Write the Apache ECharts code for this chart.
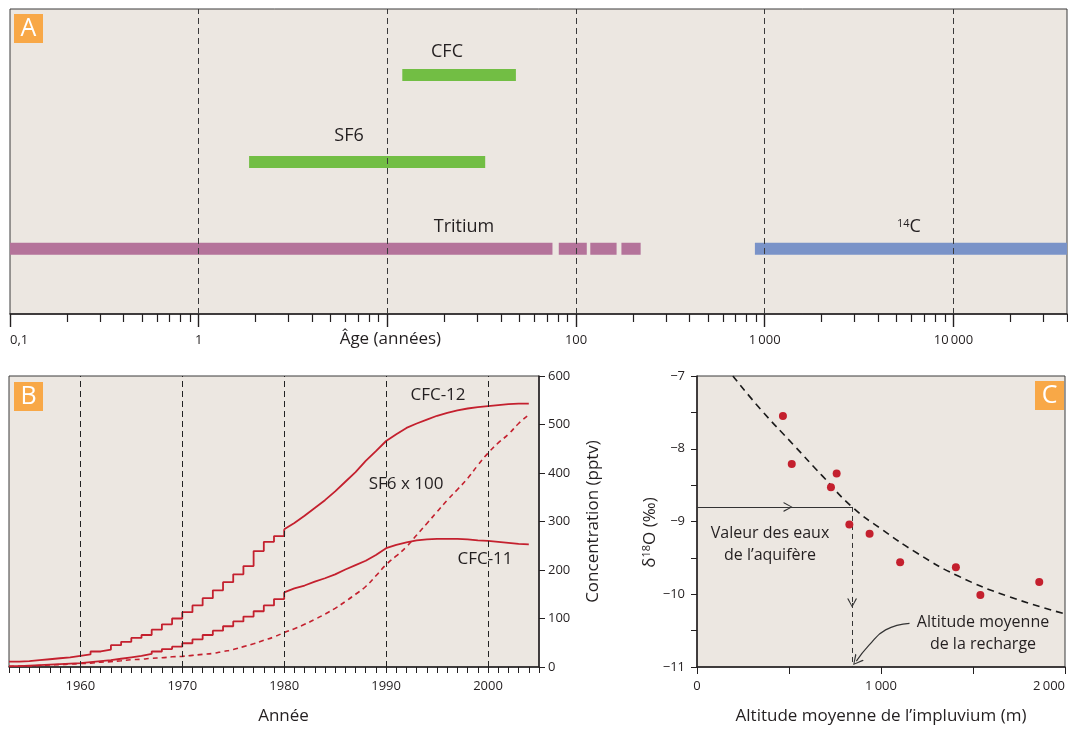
<!DOCTYPE html>
<html>
<head>
<meta charset="UTF-8">
<title>Traceurs et âges des eaux souterraines</title>
<script src="https://cdn.jsdelivr.net/npm/echarts@6.0.0/dist/echarts.min.js"></script>
<style>
    html, body { margin: 0; padding: 0; background: #fff; }
    #main { width: 1068px; height: 729px; }
</style>
</head>
<body>
<div id="main"></div>
<script>
// ---- A : domaines d'âge (années, échelle log)
var ageCFC = [12, 48];
var ageSF6 = [1.85, 33];
var ageTritium = [[0.1, 75], [81, 114], [119, 164], [174, 220]];
var age14C = [887, 40000];
var ageTicks = [0.1, 1, 10, 100, 1000, 10000];
var ageDashes = [1, 10, 100, 1000, 10000];

// ---- B : concentrations atmosphériques (pptv)
var years = [1953, 1954, 1955, 1956, 1957, 1958, 1959, 1960, 1961, 1962, 1963, 1964, 1965, 1966, 1967, 1968, 1969,
    1970, 1971, 1972, 1973, 1974, 1975, 1976, 1977, 1978, 1979, 1980, 1981, 1982, 1983, 1984, 1985, 1986, 1987, 1988, 1989,
    1990, 1991, 1992, 1993, 1994, 1995, 1996, 1997, 1998, 1999, 2000, 2001, 2002, 2003, 2004];
var cfc12 = [11, 12, 14, 16, 18, 20, 23, 26, 32, 36, 45, 52, 60, 66, 77, 88, 100,
    113, 127, 142, 158, 175, 191, 208, 239, 258, 270, 284, 297, 312, 328, 344, 362, 382, 402, 425, 445,
    466, 480, 493, 502, 510, 518, 524, 529, 533, 536, 538, 540, 542, 543, 543];
var cfc11 = [2, 3, 4, 5, 6, 7, 8, 10, 12, 14, 17, 20, 23, 27, 32, 37, 42,
    49, 57, 66, 75, 84, 94, 104, 115, 127, 140, 154, 162, 168, 176, 183, 191, 201, 210, 219, 231,
    245, 252, 257, 261, 263, 264, 264, 264, 263, 261, 260, 258, 256, 254, 253];
var sf6x100 = [1, 2, 2, 3, 4, 5, 6, 7, 8, 10, 11, 13, 15, 16, 18, 19, 21,
    22, 24, 26, 28, 32, 36, 42, 48, 55, 62, 71, 79, 88, 98, 109, 121, 135, 150, 166, 188,
    211, 229, 248, 272, 296, 320, 344, 366, 389, 416, 441, 462, 480, 502, 520];
var decades = [1960, 1970, 1980, 1990, 2000];
var stepUntil = 1980;

// ---- C : delta 18O en fonction de l'altitude
var altitude = [467, 515, 728, 759, 828, 938, 1104, 1407, 1540, 1860];
var d18O = [-7.55, -8.21, -8.53, -8.34, -9.04, -9.17, -9.56, -9.63, -10.01, -9.83];
var fitAlt = [195, 350, 526, 680, 843, 1000, 1200, 1420, 1693, 2000];
var fitD18O = [-7.0, -7.47, -7.95, -8.37, -8.80, -9.10, -9.44, -9.75, -10.03, -10.27];
var aquiferValue = -8.8;
var rechargeAltitude = 843;
// flèche courbe vers l'altitude de recharge
var pointerAlt = [1155, 1025, 935, 866];
var pointerD18O = [-10.40, -10.49, -10.70, -10.92];

var FONT = 'Open Sans';
var TXT = '#231F20';
var BG = '#ECE7E1';
var RED = '#C4202E';
var ORANGE = '#F8A847';
var CHEVRON = 'path://M50,0 L100,100 L86,100 L50,20 L14,100 L0,100 Z';

function pairs(xs, ys, from, to) {
    var out = [];
    for (var i = 0; i < xs.length; i++) {
        if (xs[i] >= from && xs[i] <= to) out.push([xs[i], ys[i]]);
    }
    return out;
}
function segments(ranges, row) {
    var out = [];
    ranges.forEach(function (r, i) {
        if (i > 0) out.push([r[0], '-']);
        out.push([r[0], row], [r[1], row]);
    });
    return out;
}
var minorAge = [];
ageTicks.forEach(function (d) {
    for (var k = 2; k <= 9; k++) if (d * k <= 40000) minorAge.push(d * k);
});
var yearTicks = [];
for (var y = 1953; y <= 2005; y++) yearTicks.push(y);

function fmtThousands(v) {
    return String(v).replace(/\B(?=(\d{3})+(?!\d))/g, '\u2009');
}

var pointerData = pairs(pointerAlt, pointerD18O, 0, 2000);
var tip = pointerData.pop();
pointerData.push({ value: tip, symbol: CHEVRON, symbolSize: [11, 10], symbolRotate: 141 });

var chart = echarts.init(document.getElementById('main'));

function barSeries(name, data, color) {
    return {
        name: name, type: 'line', xAxisIndex: 0, yAxisIndex: 0, z: 4,
        data: data, symbol: 'none', silent: true,
        lineStyle: { color: color, width: 12, cap: 'butt' }
    };
}
function badge(letter, x, y) {
    return [
        { type: 'rect', left: x, top: y, shape: { width: 29, height: 29 }, style: { fill: ORANGE }, z: 10 },
        { type: 'text', x: x + 14.5, y: y + 15, z: 11,
          style: { text: letter, fill: '#fff', fontSize: 25, fontFamily: FONT, align: 'center', verticalAlign: 'middle' } }
    ];
}
function note(text, x, y, size) {
    return { type: 'text', x: x, y: y, z: 10,
        style: { text: text, fill: TXT, fontSize: size || 17, fontFamily: FONT, align: 'center', verticalAlign: 'middle', lineHeight: 22 } };
}

var axisLineStyle = { color: TXT, width: 1.5 };

var option = {
    animation: false,
    textStyle: { fontFamily: FONT, color: TXT },
    grid: [
        { left: 10, right: 1, top: 9, height: 305, show: true, backgroundColor: BG, borderColor: '#3a3a3a', borderWidth: 1 },
        { left: 9, right: 529, top: 376, height: 291, show: true, backgroundColor: BG, borderColor: '#3a3a3a', borderWidth: 1 },
        { left: 697, right: 1, top: 376, height: 291, show: true, backgroundColor: BG, borderColor: '#3a3a3a', borderWidth: 1 }
    ],
    xAxis: [
        {
            gridIndex: 0, type: 'log', min: 0.1, max: 40000, logBase: 10, position: 'bottom',
            axisLine: { lineStyle: { color: TXT, width: 1.5 } },
            axisTick: { customValues: ageTicks, length: 13, lineStyle: { color: TXT, width: 1.4 } },
            axisLabel: {
                customValues: ageTicks, margin: 20, fontSize: 13, color: TXT, alignMinLabel: 'left',
                formatter: function (v) {
                    if (v < 1) return '0,1';
                    if (v === 10) return '{t|Âge (années)}';
                    return fmtThousands(Math.round(v));
                },
                rich: { t: { fontSize: 17, color: TXT, fontFamily: FONT, padding: [-3, 0, 0, 6] } }
            },
            splitLine: { show: false }
        },
        {
            gridIndex: 0, type: 'log', min: 0.1, max: 40000, logBase: 10, position: 'bottom', offset: 0,
            axisLine: { show: false },
            axisTick: { customValues: minorAge, length: 8, lineStyle: { color: TXT, width: 1.2 } },
            axisLabel: { show: false },
            splitLine: { show: false }
        },
        {
            gridIndex: 1, type: 'value', min: 1953, max: 2005, interval: 1,
            name: 'Année', nameLocation: 'middle', nameGap: 41,
            nameTextStyle: { fontSize: 17, color: TXT, padding: [0, 0, 0, 19] },
            axisLine: { lineStyle: axisLineStyle },
            axisTick: { customValues: yearTicks, length: 6, lineStyle: { color: TXT } },
            axisLabel: { customValues: decades, margin: 13, fontSize: 13, color: TXT,
                formatter: function (v) { return String(v); } },
            splitLine: { show: false }
        },
        {
            gridIndex: 2, type: 'value', min: 0, max: 2000, interval: 500,
            name: 'Altitude moyenne de l\u2019impluvium (m)', nameLocation: 'middle', nameGap: 41,
            nameTextStyle: { fontSize: 17, color: TXT },
            axisLine: { lineStyle: axisLineStyle },
            axisTick: { length: 7, lineStyle: { color: TXT } },
            axisLabel: { customValues: [0, 1000, 2000], margin: 13, fontSize: 13, color: TXT, alignMaxLabel: 'right',
                formatter: function (v) { return fmtThousands(v); } },
            splitLine: { show: false }
        }
    ],
    yAxis: [
        { gridIndex: 0, type: 'value', min: 0.25, max: 3.76, show: false },
        {
            gridIndex: 1, type: 'value', position: 'right', min: 0, max: 600, interval: 100,
            name: 'Concentration (pptv)', nameLocation: 'middle', nameRotate: 90, nameGap: 46,
            nameTextStyle: { fontSize: 17, color: TXT },
            axisLine: { show: true, lineStyle: axisLineStyle },
            axisTick: { show: true, length: 6, lineStyle: { color: TXT } },
            axisLabel: { margin: 9, fontSize: 13, color: TXT },
            splitLine: { show: false }
        },
        {
            gridIndex: 2, type: 'value', min: -11, max: -7, interval: 0.5,
            name: '{a|δ}{s|18}{a|O (‰)}', nameLocation: 'middle', nameRotate: 90, nameGap: 32,
            nameTextStyle: { color: TXT, padding: [0, 22, 0, 0],
                rich: { a: { fontSize: 17, color: TXT, fontFamily: FONT }, s: { fontSize: 11, color: TXT, fontFamily: FONT, verticalAlign: 'top' } } },
            axisLine: { show: true, lineStyle: axisLineStyle },
            axisTick: { show: true, length: 6, lineStyle: { color: TXT } },
            axisLabel: { customValues: [-11, -10, -9, -8, -7], margin: 12, fontSize: 13, color: TXT,
                formatter: function (v) { return '\u2212' + Math.abs(v); } },
            splitLine: { show: false }
        }
    ],
    series: [
        // A : lignes verticales pointillées
        {
            type: 'line', xAxisIndex: 0, yAxisIndex: 0, data: [], z: 2,
            markLine: {
                silent: true, symbol: 'none', label: { show: false },
                lineStyle: { color: '#3a3a3a', type: [6, 4], width: 1 },
                data: ageDashes.map(function (v) { return { xAxis: v }; })
            }
        },
        barSeries('CFC', segments([ageCFC], 3), '#72BE44'),
        barSeries('SF6', segments([ageSF6], 2), '#72BE44'),
        barSeries('Tritium', segments(ageTritium, 1), '#B4739A'),
        barSeries('14C', segments([age14C], 1), '#7A93C8'),

        // B
        {
            type: 'line', xAxisIndex: 2, yAxisIndex: 1, data: [], z: 2,
            markLine: {
                silent: true, symbol: 'none', label: { show: false },
                lineStyle: { color: '#222', type: [6, 4], width: 1 },
                data: decades.map(function (v) { return { xAxis: v }; })
            }
        },
        { name: 'CFC-12', type: 'line', xAxisIndex: 2, yAxisIndex: 1, step: 'end', symbol: 'none', z: 4,
          data: pairs(years, cfc12, 1953, stepUntil), lineStyle: { color: RED, width: 1.8 } },
        { name: 'CFC-12', type: 'line', xAxisIndex: 2, yAxisIndex: 1, symbol: 'none', z: 4,
          data: pairs(years, cfc12, stepUntil, 2004), lineStyle: { color: RED, width: 1.8 } },
        { name: 'CFC-11', type: 'line', xAxisIndex: 2, yAxisIndex: 1, step: 'end', symbol: 'none', z: 4,
          data: pairs(years, cfc11, 1953, stepUntil), lineStyle: { color: RED, width: 1.8 } },
        { name: 'CFC-11', type: 'line', xAxisIndex: 2, yAxisIndex: 1, symbol: 'none', z: 4,
          data: pairs(years, cfc11, stepUntil, 2004), lineStyle: { color: RED, width: 1.8 } },
        { name: 'SF6 x 100', type: 'line', xAxisIndex: 2, yAxisIndex: 1, symbol: 'none', smooth: true, z: 4,
          data: pairs(years, sf6x100, 1953, 2004), lineStyle: { color: RED, width: 1.6, type: [5, 4] } },

        // C
        { name: 'ajustement', type: 'line', xAxisIndex: 3, yAxisIndex: 2, symbol: 'none', smooth: true, z: 3,
          data: pairs(fitAlt, fitD18O, 0, 2000), lineStyle: { color: '#1a1a1a', width: 1.6, type: [7, 5] } },
        { name: 'flèche', type: 'line', xAxisIndex: 3, yAxisIndex: 2, symbol: 'none', smooth: true, z: 6, silent: true,
          data: pointerData, itemStyle: { color: '#333' }, lineStyle: { color: '#333', width: 1.2 } },
        {
            name: 'points', type: 'scatter', xAxisIndex: 3, yAxisIndex: 2, symbolSize: 8, z: 5,
            itemStyle: { color: RED, opacity: 1 },
            data: pairs(altitude, d18O, 0, 2000),
            markLine: {
                silent: true, label: { show: false }, symbolSize: [10, 9],
                lineStyle: { color: '#333', width: 1, type: 'solid' },
                data: [
                    [{ coord: [0, aquiferValue], symbol: 'none' }, { coord: [495, aquiferValue], symbol: CHEVRON }],
                    [{ coord: [495, aquiferValue], symbol: 'none' }, { coord: [rechargeAltitude, aquiferValue], symbol: 'none' }],
                    [{ coord: [rechargeAltitude, aquiferValue], symbol: 'none', lineStyle: { type: [5, 4] } }, { coord: [rechargeAltitude, -10.12], symbol: CHEVRON }],
                    [{ coord: [rechargeAltitude, -10.12], symbol: 'none', lineStyle: { type: [5, 4] } }, { coord: [rechargeAltitude, -11], symbol: 'none' }]
                ]
            }
        }
    ],
    graphic: [].concat(
        badge('A', 14, 14),
        badge('B', 14, 382),
        badge('C', 1035, 381),
        [
            note('CFC', 447, 52, 18),
            note('SF6', 349, 136, 18),
            note('Tritium', 464, 227, 18),
            { type: 'text', x: 909, y: 227, z: 10,
              style: { text: '{s|14}{c|C}', fill: TXT, align: 'center', verticalAlign: 'middle',
                  rich: { s: { fontSize: 11, fontFamily: FONT, fill: TXT, verticalAlign: 'top' }, c: { fontSize: 18, fontFamily: FONT, fill: TXT } } } },
            note('CFC-12', 438, 395, 17),
            note('SF6 x 100', 406, 484, 17),
            note('CFC-11', 485, 559, 17),
            note('Valeur des eaux\nde l\u2019aquifère', 770, 544, 16),
            note('Altitude moyenne\nde la recharge', 983, 633, 16)
        ]
    )
};

chart.setOption(option);
</script>
</body>
</html>
